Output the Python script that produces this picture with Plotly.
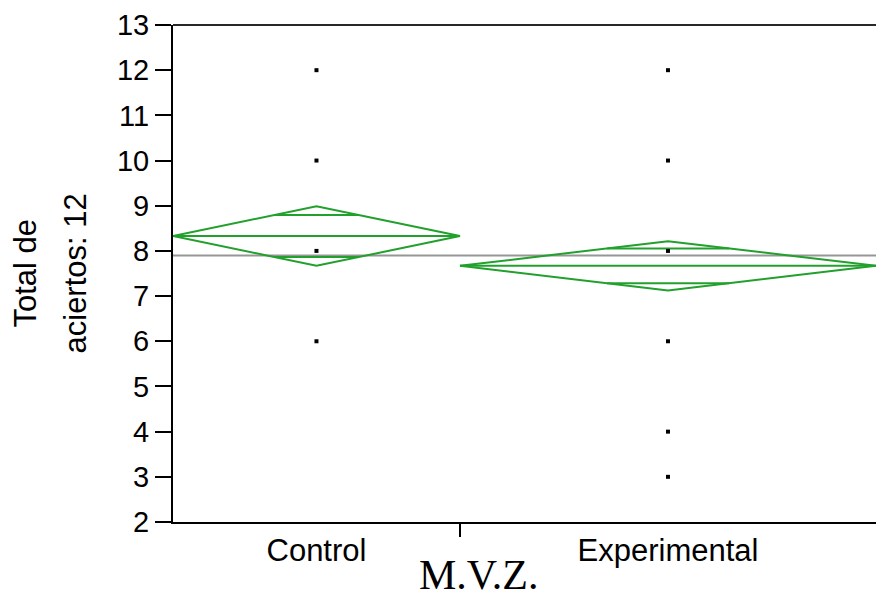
import math
import plotly.graph_objects as go

# ---- data ----
groups = ["Control", "Experimental"]
group_n = [20, 29]
group_means = [8.33, 7.67]
group_ci = [0.66, 0.545]
grand_mean = 7.9
points_control = [12, 10, 8, 6]
points_experimental = [12, 10, 8, 6, 4, 3]
y_ticks = [2, 3, 4, 5, 6, 7, 8, 9, 10, 11, 12, 13]

GREEN = "rgb(34,160,44)"
total = sum(group_n)
edges = [0]
for n in group_n:
    edges.append(edges[-1] + n)
centers = [(edges[i] + edges[i + 1]) / 2 for i in range(len(groups))]

fig = go.Figure()

# grand mean line
fig.add_trace(go.Scatter(x=[0, total], y=[grand_mean, grand_mean], mode="lines",
                         line=dict(color="rgb(150,150,150)", width=2),
                         hoverinfo="skip", showlegend=False))

f = 1 - 1 / math.sqrt(2)
for i, g in enumerate(groups):
    L, R, C = edges[i], edges[i + 1], centers[i]
    m, ci = group_means[i], group_ci[i]
    hw = (R - L) / 2
    fig.add_trace(go.Scatter(x=[L, C, R, C, L], y=[m, m + ci, m, m - ci, m], mode="lines",
                             line=dict(color=GREEN, width=2), hoverinfo="skip", showlegend=False))
    fig.add_trace(go.Scatter(x=[L, R], y=[m, m], mode="lines",
                             line=dict(color=GREEN, width=2), hoverinfo="skip", showlegend=False))
    o = ci / math.sqrt(2)
    for yy in (m + o, m - o):
        fig.add_trace(go.Scatter(x=[C - f * hw, C + f * hw], y=[yy, yy], mode="lines",
                                 line=dict(color=GREEN, width=2), hoverinfo="skip", showlegend=False))

for i, pts in enumerate([points_control, points_experimental]):
    fig.add_trace(go.Scatter(x=[centers[i]] * len(pts), y=pts, mode="markers",
                             marker=dict(symbol="square", size=4, color="black"),
                             showlegend=False))

fig.update_layout(
    width=876, height=597,
    margin=dict(l=173, r=0, t=25, b=75),
    paper_bgcolor="white", plot_bgcolor="white",
    font=dict(family="Liberation Sans, Arial, sans-serif", size=28, color="black"),
    xaxis=dict(range=[0, total], tickvals=centers, ticktext=groups, ticks="",
               tickfont=dict(size=31),
               showgrid=False, zeroline=False, showline=True, linecolor="black", linewidth=2,
               mirror=False,
               minor=dict(ticks="outside", tick0=edges[1], dtick=1000, ticklen=13,
                          tickcolor="black", tickwidth=2, showgrid=False)),
    yaxis=dict(range=[2, 13], tickvals=y_ticks, ticks="outside", ticklen=16, tickwidth=2,
               tickfont=dict(size=29),
               tickcolor="black", showgrid=False, zeroline=False, showline=True,
               linecolor="black", linewidth=2),
)

# top border
fig.add_shape(type="line", xref="paper", yref="paper", x0=0, x1=1, y0=1, y1=1,
              line=dict(color="rgb(40,40,40)", width=2))

fig.add_annotation(text="Total de", xref="paper", yref="paper", x=(25 - 173) / 703, y=0.5,
                   xanchor="center", yanchor="middle", textangle=-90, showarrow=False,
                   font=dict(size=31))
fig.add_annotation(text="aciertos: 12", xref="paper", yref="paper", x=(75 - 173) / 703, y=0.5,
                   xanchor="center", yanchor="middle", textangle=-90, showarrow=False,
                   font=dict(size=31))
fig.add_annotation(text="M.V.Z.", xref="paper", yref="paper", x=(478 - 173) / 703,
                   y=-(575 - 522) / 497, xanchor="center", yanchor="middle", showarrow=False,
                   font=dict(family="Liberation Serif, Times New Roman, serif", size=42))

fig.write_html("out.html", config={"displayModeBar": False},
               post_script="document.body.style.margin='0';document.body.style.overflow='hidden';")
